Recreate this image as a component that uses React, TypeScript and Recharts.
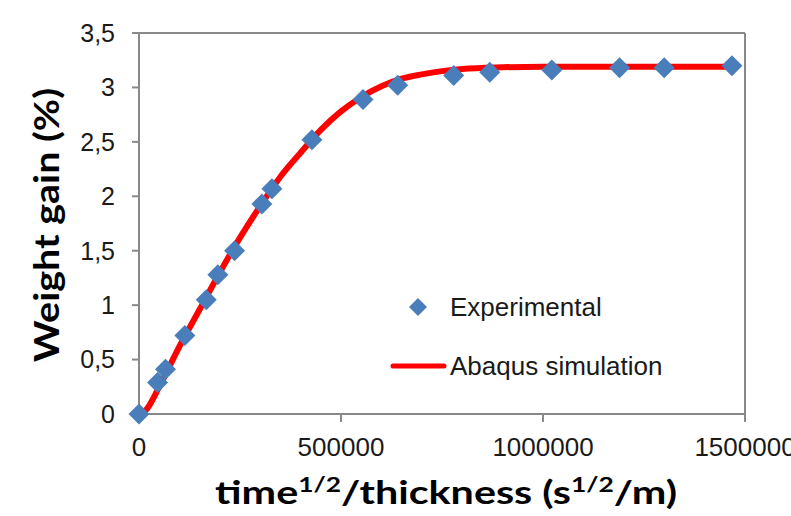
import React from 'react';
import { ComposedChart, Line, Scatter, XAxis, YAxis, ReferenceLine, Legend } from 'recharts';

const expX = [0, 46000, 65600, 113500, 166400, 195200, 236600, 304200, 329000, 428000, 554400, 640300, 779000, 868200, 1021800, 1189500, 1300000, 1467700];
const expY = [0, 0.29, 0.41, 0.72, 1.05, 1.28, 1.5, 1.93, 2.07, 2.52, 2.89, 3.02, 3.11, 3.14, 3.16, 3.18, 3.18, 3.2];

const simX = [0, 17800, 50000, 100000, 150000, 200000, 250000, 300000, 350000, 400000, 450000, 500000, 550000, 600000, 650000, 700000, 750000, 800000, 900000, 1000000, 1200000, 1470000];
const simY = [0, 0.04, 0.25, 0.62, 0.96, 1.3, 1.62, 1.91, 2.18, 2.4, 2.61, 2.78, 2.91, 3.01, 3.08, 3.12, 3.15, 3.17, 3.185, 3.19, 3.19, 3.19];

const xTicks = [0, 500000, 1000000, 1500000];
const yTicks = [0, 0.5, 1, 1.5, 2, 2.5, 3, 3.5];

const seriesNames = ['Experimental', 'Abaqus simulation'];

const expData = expX.map((x, i) => ({ x, y: expY[i] }));
const simData = simX.map((x, i) => ({ x, y: simY[i] }));

const AXIS = '#898989';
const BLUE = '#4A7EBB';
const RED = '#FF0000';
const TICK_FONT = '"Liberation Sans", Arial, sans-serif';
const TITLE_FONT = 'Lato, "Open Sans", sans-serif';

const Diamond = (props: any) => {
  const { cx, cy } = props;
  const r = 10.5;
  return (
    <polygon
      points={`${cx},${cy - r} ${cx + r},${cy} ${cx},${cy + r} ${cx - r},${cy}`}
      fill={BLUE}
    />
  );
};

const fmt = (v: number) => String(v).replace('.', ',');

const LegendContent = () => (
  <div style={{ position: 'relative', width: 791, height: 516, pointerEvents: 'none' }}>
    <svg style={{ position: 'absolute', left: 0, top: 0 }} width={791} height={516}>
      <polygon points="418,298 427,307 418,316 409,307" fill={BLUE} />
      <line x1={393} y1={366} x2={444} y2={366} stroke={RED} strokeWidth={5} strokeLinecap="round" />
      <text x={450} y={307} dy="0.36em" fontFamily={TICK_FONT} fontSize={26} fill="#1a1a1a">
        {seriesNames[0]}
      </text>
      <text x={450} y={366} dy="0.36em" fontFamily={TICK_FONT} fontSize={26} fill="#1a1a1a">
        {seriesNames[1]}
      </text>
    </svg>
  </div>
);

const XTitle = () => (
  <text
    x={446}
    y={504}
    textAnchor="middle"
    fontFamily={TITLE_FONT}
    fontWeight={700}
    fontSize={33}
    fill="#000"
    textLength={462}
    lengthAdjust="spacingAndGlyphs"
  >
    time<tspan fontSize={21} dy={-12}>1/2</tspan>
    <tspan dy={12}>/thickness (s</tspan>
    <tspan fontSize={21} dy={-12}>1/2</tspan>
    <tspan dy={12}>/m)</tspan>
  </text>
);

const YTitle = () => (
  <text
    x={0}
    y={0}
    transform="translate(59,225) rotate(-90)"
    textAnchor="middle"
    fontFamily={TITLE_FONT}
    fontWeight={700}
    fontSize={34}
    fill="#000"
    textLength={274}
    lengthAdjust="spacingAndGlyphs"
  >
    Weight gain (%)
  </text>
);

export default function App() {
  return (
    <div style={{ position: 'absolute', left: 0, top: 0, width: 791, height: 516, background: '#fff' }}>
      <ComposedChart
        width={791}
        height={516}
        margin={{ top: 33, right: 46, bottom: 42, left: 0 }}
      >
        <XAxis
          type="number"
          dataKey="x"
          domain={[0, 1500000]}
          ticks={xTicks}
          interval={0}
          height={60}
          stroke={AXIS}
          strokeWidth={2}
          tickSize={8}
          tickMargin={16}
          tick={{ fontFamily: TICK_FONT, fontSize: 26, fill: '#1a1a1a' }}
          tickLine={{ stroke: AXIS, strokeWidth: 2 }}
          label={{ content: () => <XTitle /> }}
        />
        <YAxis
          type="number"
          dataKey="y"
          domain={[0, 3.5]}
          ticks={yTicks}
          interval={0}
          width={139}
          stroke={AXIS}
          strokeWidth={2}
          tickSize={7}
          tickMargin={17}
          tickFormatter={fmt}
          tick={{ fontFamily: TICK_FONT, fontSize: 25, fill: '#1a1a1a' }}
          tickLine={{ stroke: AXIS, strokeWidth: 2 }}
          label={{ content: () => <YTitle /> }}
        />
        <ReferenceLine y={3.5} stroke={AXIS} strokeWidth={2} />
        <ReferenceLine x={1500000} stroke={AXIS} strokeWidth={2} />
        <Line
          data={simData}
          dataKey="y"
          type="monotone"
          stroke={RED}
          strokeWidth={6}
          dot={false}
          activeDot={false}
          isAnimationActive={false}
          name={seriesNames[1]}
        />
        <Scatter
          data={expData}
          dataKey="y"
          fill={BLUE}
          shape={<Diamond />}
          isAnimationActive={false}
          name={seriesNames[0]}
        />
        <Legend
          layout="vertical"
          align="center"
          verticalAlign="middle"
          wrapperStyle={{ position: 'absolute', left: 0, top: 0, width: 791, height: 516 }}
          content={() => <LegendContent />}
        />
      </ComposedChart>
    </div>
  );
}
